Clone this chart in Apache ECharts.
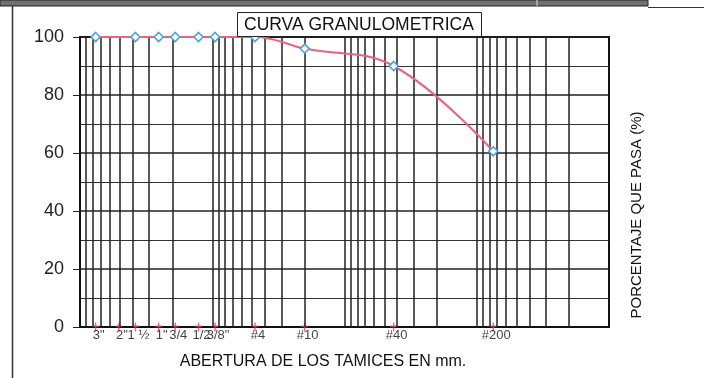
<!DOCTYPE html>
<html>
<head>
<meta charset="utf-8">
<script src="https://cdn.jsdelivr.net/npm/echarts@6/dist/echarts.min.js"></script>
<style>
html,body{margin:0;padding:0;background:#fff;}
#chart{width:704px;height:378px;}
</style>
</head>
<body>
<div id="chart"></div>
<script>
// Sieve openings (mm) and their labels
var sieveMm = [76.2, 50.8, 38.1, 25.4, 19.05, 12.7, 9.525, 4.75, 2.0, 0.425, 0.075];
var sieveLabels = ['3"', '2"', '1 \u00bd', '1"', '3/4', '1/2', '3/8"', '#4', '#10', '#40', '#200'];
// Measured points (mm, % passing)
var pointMm = [76.2, 38.1, 25.4, 19.05, 12.7, 9.525, 4.75, 2.0, 0.425, 0.075];
var pointPass = [100, 100, 100, 100, 100, 100, 100, 96, 90, 60.6];
// Log grid lines (mm)
var gridMm = [90,80,70,60,50,40,30,20,10,9,8,7,6,5,4,3,2,1,0.9,0.8,0.7,0.6,0.5,0.4,0.3,0.2,0.1,0.09,0.08,0.07,0.06,0.05,0.04,0.03,0.02];
var yTicks = [0, 20, 40, 60, 80, 100];

var chart = echarts.init(document.getElementById('chart'), null, {renderer: 'canvas'});
var font = 'Arial, "Liberation Sans", sans-serif';

var option = {
  animation: false,
  backgroundColor: '#fff',
  title: {
    text: 'CURVA GRANULOMETRICA',
    left: 237, top: 12,
    padding: [4, 8, 3, 7],
    borderColor: '#222', borderWidth: 1,
    backgroundColor: '#fff',
    z: 20,
    textStyle: {fontFamily: font, fontSize: 17.5, fontWeight: 'normal', color: '#111'}
  },
  grid: {
    left: 80, right: 95, top: 37, bottom: 51,
    show: true, borderColor: '#111', borderWidth: 2, backgroundColor: 'transparent'
  },
  xAxis: {
    type: 'log', logBase: 10, min: 0.01, max: 100, inverse: true,
    axisLine: {show: true, lineStyle: {color: '#111', width: 2}},
    axisTick: {show: false}, axisLabel: {show: false},
    splitLine: {show: false}, minorTick: {show: false}
  },
  yAxis: {
    type: 'value', min: 0, max: 100, interval: 20,
    axisLine: {show: true, lineStyle: {color: '#111', width: 2}},
    axisTick: {show: true, length: 7, lineStyle: {color: '#222', width: 1}},
    axisLabel: {
      margin: 16, fontFamily: font, fontSize: 18, color: '#222',
      formatter: function (v) { return yTicks.indexOf(v) >= 0 ? String(v) : ''; }
    },
    splitLine: {show: true, lineStyle: {color: '#222', width: 1.6}},
    minorTick: {show: false, splitNumber: 2},
    minorSplitLine: {show: true, lineStyle: {color: '#333', width: 1}}
  },
  graphic: [
    {type: 'rect', shape: {x: 0, y: 0, width: 648, height: 6}, style: {fill: '#6f6f6f', stroke: '#222', lineWidth: 1}},
    {type: 'line', shape: {x1: 537, y1: 0, x2: 537, y2: 6}, style: {stroke: '#ddd', lineWidth: 1}},
    {type: 'line', shape: {x1: 648, y1: 7.5, x2: 704, y2: 7.5}, style: {stroke: '#333', lineWidth: 1}},
    {type: 'line', shape: {x1: 12.5, y1: 6, x2: 12.5, y2: 378}, style: {stroke: '#333', lineWidth: 1.5}},
    {
      type: 'text', x: 323, y: 362,
      style: {text: 'ABERTURA DE LOS TAMICES EN mm.', font: '16px Arial, "Liberation Sans", sans-serif', fill: '#111', textAlign: 'center', textVerticalAlign: 'middle'}
    },
    {
      type: 'text', x: 637, y: 215, rotation: Math.PI / 2,
      style: {text: 'PORCENTAJE QUE PASA (%)', font: '15px Arial, "Liberation Sans", sans-serif', fill: '#111', textAlign: 'center', textVerticalAlign: 'middle'}
    }
  ],
  series: [
    {
      name: 'grid', type: 'scatter', data: [], z: 1, silent: true,
      markLine: {
        silent: true, symbol: 'none', animation: false,
        label: {show: false},
        lineStyle: {type: 'solid', color: '#222', width: 1.5},
        emphasis: {disabled: true},
        data: gridMm.map(function (v) { return {xAxis: v}; })
      }
    },
    {
      name: 'tamices', type: 'scatter', z: 4, clip: false, silent: true,
      symbol: 'path://M4,0 L6,0 L6,4 L10,4 L10,6 L6,6 L6,12 L4,12 L4,6 L0,6 L0,4 L4,4 Z',
      symbolSize: [7, 9],
      itemStyle: {color: '#e8405a'},
      label: {
        show: true, position: 'bottom', distance: 0, offset: [3, -3],
        fontFamily: font, fontSize: 13, color: '#111',
        formatter: function (p) { return sieveLabels[p.dataIndex]; }
      },
      data: sieveMm.map(function (v) { return [v, 0]; })
    },
    {
      name: 'curva', type: 'line', z: 5, smooth: 0.4,
      data: pointMm.map(function (v, i) { return [v, pointPass[i]]; }),
      lineStyle: {color: '#f0607a', width: 2},
      symbol: 'diamond', symbolSize: 9, showSymbol: true,
      itemStyle: {color: '#fff', borderColor: '#4aa3df', borderWidth: 1.6}
    }
  ]
};
chart.setOption(option);
</script>
</body>
</html>
